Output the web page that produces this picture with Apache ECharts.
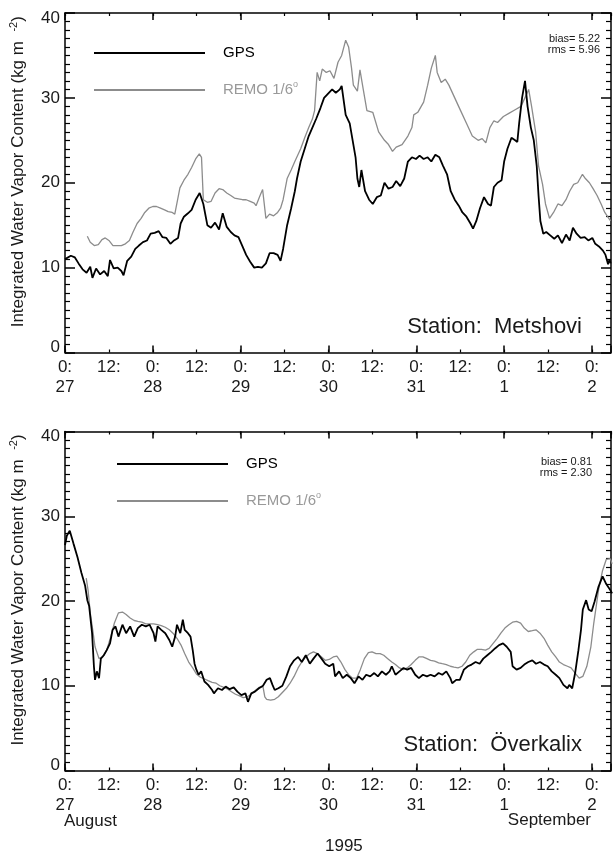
<!DOCTYPE html>
<html><head><meta charset="utf-8">
<script src="https://cdn.jsdelivr.net/npm/echarts@6/dist/echarts.min.js"></script>
<style>html,body{margin:0;padding:0;background:#fff}#c{width:613px;height:855px}</style>
</head><body><div id="c"></div>
<script>
// ---- data (hours since 27 Aug 1995 00:00, IWV kg m^-2) ----
const dayLabels = ['27','28','29','30','31','1','2'];
const yTicks = [0,10,20,30,40];
const seriesNames = ['GPS','REMO 1/6°'];
const stations = ['Station:  Metshovi','Station:  Överkalix'];
const stats = [['bias= 5.22','rms = 5.96'],['bias= 0.81','rms = 2.30']];

const gpsMetshovi = [[0,11.0],[1.6,11.4],[2.7,11.2],[3.7,10.5],[4.8,9.8],[5.9,9.4],[6.9,10.1],[7.5,8.8],[8.5,9.9],[9.6,9.2],[10.7,9.6],[11.7,9.0],[12.3,10.9],[13.3,9.9],[14.4,10.0],[15.4,9.6],[16.0,9.1],[17.0,10.8],[18.1,11.3],[19.2,12.2],[20.2,12.6],[21.3,13.0],[22.4,13.2],[23.4,14.0],[24.5,14.1],[25.6,14.3],[26.6,13.6],[27.7,13.5],[28.8,12.8],[29.8,13.2],[30.9,13.5],[31.6,15.2],[32.5,16.0],[33.6,16.4],[34.6,16.8],[35.7,18.0],[36.8,18.8],[37.8,17.5],[38.9,15.0],[39.9,14.7],[41.0,15.3],[42.1,14.5],[43.1,16.4],[44.2,14.8],[45.3,14.2],[46.3,13.8],[47.4,13.6],[48.5,12.5],[49.5,11.5],[50.6,10.7],[51.7,10.0],[52.7,10.1],[53.8,10.0],[54.9,10.5],[55.9,11.7],[57.0,11.7],[58.1,11.5],[58.9,10.8],[59.6,12.2],[60.7,15.0],[61.8,17.0],[62.8,19.0],[63.4,20.5],[64.4,22.5],[65.5,24.0],[66.6,25.5],[67.6,26.5],[68.7,27.6],[69.8,28.8],[70.8,30.0],[71.9,30.5],[73.0,31.0],[74.0,30.6],[75.1,31.0],[75.6,31.4],[76.7,28.0],[77.8,27.0],[78.8,24.5],[79.4,23.0],[79.9,20.5],[80.4,19.5],[81.0,21.5],[82.0,19.0],[83.1,18.0],[84.1,17.5],[85.2,18.3],[86.3,18.5],[87.3,20.0],[88.4,19.3],[89.5,19.5],[90.5,20.2],[91.6,19.6],[92.7,20.5],[93.7,22.5],[94.8,23.0],[95.9,22.8],[96.9,23.2],[98.0,22.8],[99.1,23.0],[100.1,22.5],[101.2,23.3],[102.3,23.0],[103.3,22.0],[104.4,21.0],[105.4,19.0],[106.5,18.0],[107.6,17.3],[108.6,16.5],[109.7,16.0],[110.8,15.2],[111.5,14.6],[112.4,15.5],[113.4,17.0],[114.5,18.3],[115.6,17.5],[116.4,17.3],[117.2,19.5],[118.2,20.0],[119.3,20.3],[120.0,22.5],[120.9,24.0],[122.0,25.3],[123.0,25.0],[123.6,24.8],[124.1,27.0],[124.9,30.0],[125.7,32.0],[126.4,29.0],[127.3,26.5],[128.1,25.0],[128.9,22.0],[129.4,18.5],[129.9,15.5],[130.7,14.0],[131.5,14.2],[132.6,13.8],[133.7,13.4],[134.7,13.8],[135.8,12.9],[136.9,13.9],[137.9,13.2],[138.8,14.7],[139.8,14.0],[140.9,13.5],[142.0,13.6],[143.0,13.2],[144.1,13.5],[144.9,12.8],[145.9,12.5],[147.0,12.0],[147.7,11.5],[148.4,10.4],[148.8,11.0],[149.1,10.5]];

const remoMetshovi = [[6.1,13.7],[6.9,13.0],[8.0,12.6],[9.1,12.7],[10.1,13.3],[11.0,13.5],[12.0,13.2],[13.1,12.6],[14.4,12.6],[15.4,12.6],[16.5,12.8],[17.6,13.2],[18.6,14.2],[19.7,15.2],[20.8,15.8],[21.8,16.5],[22.9,17.0],[24.0,17.2],[25.0,17.2],[26.1,17.0],[27.2,16.8],[28.2,16.6],[29.3,16.5],[30.0,16.3],[31.4,19.4],[32.5,20.3],[33.6,21.0],[34.6,21.8],[35.7,22.8],[36.7,23.4],[37.3,23.0],[37.8,18.0],[38.9,17.7],[39.9,17.8],[41.0,18.8],[42.1,19.3],[43.1,19.2],[44.2,18.8],[45.3,18.5],[46.3,18.2],[47.4,18.1],[48.5,18.0],[49.5,18.0],[50.6,17.8],[51.7,17.6],[52.2,17.3],[53.3,18.5],[54.0,19.2],[54.9,15.8],[55.9,16.3],[57.0,16.1],[58.1,16.5],[58.9,17.0],[59.6,18.0],[60.7,20.5],[61.8,21.5],[62.8,22.5],[64.4,24.0],[65.5,25.3],[66.6,26.5],[67.6,27.5],[68.2,28.5],[68.9,33.0],[69.6,32.0],[70.3,33.4],[71.4,33.0],[72.4,33.2],[73.5,32.3],[74.6,34.2],[75.6,35.0],[76.7,36.8],[77.5,36.0],[78.3,33.5],[78.8,31.5],[79.9,30.8],[80.6,33.3],[81.5,31.0],[82.5,28.5],[84.1,28.3],[85.7,26.0],[87.3,25.0],[88.4,24.5],[89.5,23.7],[90.5,24.2],[92.1,24.5],[93.7,25.5],[94.8,26.5],[95.3,28.0],[96.4,28.3],[98.0,29.5],[99.1,31.5],[100.1,33.5],[101.2,35.0],[101.7,33.0],[102.8,31.8],[103.9,32.2],[104.9,31.5],[106.5,30.0],[108.1,28.5],[109.7,27.0],[111.3,25.5],[112.9,25.0],[114.0,25.2],[115.0,24.7],[116.1,26.5],[117.2,27.3],[118.2,27.1],[119.8,27.8],[121.4,28.2],[123.0,28.6],[124.6,29.0],[126.2,30.5],[126.7,31.0],[127.5,29.0],[128.6,26.0],[129.4,22.0],[130.5,19.8],[131.3,17.5],[132.4,15.8],[133.5,16.5],[134.7,17.5],[135.8,17.3],[136.9,18.0],[137.9,19.0],[139.0,19.8],[140.1,20.0],[141.4,21.0],[142.2,20.5],[143.3,20.0],[144.3,19.3],[145.4,18.5],[146.5,17.5],[147.5,16.5],[148.6,15.8],[149.1,15.5]];

const gpsOverkalix = [[0,26.6],[0.5,27.7],[1.3,28.3],[2.3,26.8],[3.4,25.2],[4.5,23.3],[5.5,21.8],[6.1,20.1],[6.6,19.4],[7.4,16.2],[7.9,12.3],[8.2,10.7],[8.7,11.7],[9.3,10.9],[9.8,13.2],[10.6,13.6],[11.4,14.2],[12.3,15.0],[13.0,16.6],[13.8,17.0],[14.6,15.8],[15.7,17.2],[16.7,16.2],[17.8,17.0],[18.9,15.8],[19.9,16.8],[21.0,17.2],[22.1,17.0],[23.1,17.2],[24.2,16.2],[24.7,15.2],[25.3,17.0],[26.3,16.6],[27.4,16.2],[28.5,15.4],[29.3,14.6],[30.1,15.8],[30.6,17.2],[31.5,16.2],[32.2,17.8],[32.7,16.6],[33.6,16.2],[34.3,15.8],[34.9,14.2],[35.4,12.6],[35.9,11.9],[36.5,11.3],[37.2,11.7],[38.1,10.5],[39.1,10.1],[40.2,9.5],[40.7,9.1],[41.8,9.7],[42.9,9.5],[43.9,9.9],[45.0,9.6],[46.1,9.8],[47.1,9.3],[48.2,8.9],[49.3,9.1],[50.0,8.1],[50.9,9.1],[51.9,9.3],[53.0,9.7],[54.1,10.0],[55.1,10.7],[56.0,10.9],[56.7,10.1],[57.3,9.5],[58.3,9.7],[59.4,10.0],[60.5,11.1],[61.5,12.3],[62.6,13.0],[63.7,13.4],[64.7,12.8],[65.8,13.6],[66.9,12.6],[67.9,13.2],[69.0,13.8],[70.1,13.2],[71.1,12.6],[72.2,12.3],[73.3,12.6],[73.8,11.1],[74.9,11.7],[75.9,10.9],[77.0,11.3],[78.1,10.9],[79.1,10.3],[80.2,11.1],[81.3,10.7],[82.3,11.3],[83.4,11.1],[84.5,11.5],[85.5,11.1],[86.6,11.7],[87.7,11.3],[88.7,11.7],[89.3,12.3],[90.3,11.3],[91.4,11.7],[92.5,12.1],[93.5,11.9],[94.6,12.1],[95.7,11.3],[96.7,10.9],[97.8,11.3],[98.9,11.1],[99.9,11.3],[101.0,11.1],[102.1,11.5],[103.1,11.3],[104.2,11.7],[105.3,10.9],[105.8,10.3],[106.9,10.7],[107.9,10.7],[109.0,11.9],[110.1,12.3],[111.1,12.5],[112.2,12.8],[113.3,12.6],[114.3,13.2],[115.4,13.6],[116.5,14.0],[117.5,14.4],[118.6,14.8],[119.7,15.0],[120.7,14.6],[121.8,14.0],[122.3,12.3],[123.4,11.9],[124.5,12.1],[125.5,12.5],[126.6,12.8],[127.7,13.0],[128.7,12.6],[129.8,12.8],[130.9,12.5],[131.9,12.3],[133.0,11.7],[134.1,11.3],[135.1,10.9],[136.2,10.1],[137.3,9.7],[137.8,10.1],[138.6,9.7],[139.4,11.5],[140.3,14.2],[141.0,16.6],[141.5,19.0],[142.4,20.1],[143.1,19.0],[143.9,18.8],[144.7,19.9],[145.8,21.7],[146.9,22.9],[147.9,22.0],[149.0,21.3],[149.5,20.9]];

const remoOverkalix = [[5.8,22.7],[6.3,21.3],[6.9,18.6],[7.7,16.2],[8.2,14.6],[9.3,13.2],[10.3,13.4],[11.4,14.2],[12.5,15.8],[13.5,17.4],[14.6,18.6],[15.7,18.7],[16.7,18.4],[17.8,18.0],[18.9,17.7],[19.9,17.6],[21.0,17.5],[22.1,17.3],[23.1,17.3],[24.2,17.3],[25.3,17.2],[26.3,17.1],[27.4,16.9],[28.5,16.6],[29.5,16.2],[30.6,15.6],[31.7,14.8],[32.7,13.8],[33.8,12.8],[34.9,12.1],[35.9,11.4],[37.0,11.0],[38.1,10.8],[39.1,10.6],[40.2,10.4],[41.3,10.3],[42.3,10.0],[43.4,9.8],[44.5,9.6],[45.5,9.3],[46.6,9.0],[47.7,8.8],[48.7,8.6],[49.8,8.7],[50.9,9.0],[51.9,9.4],[53.0,9.8],[54.1,9.9],[54.6,8.7],[55.1,8.4],[56.2,8.3],[57.3,8.4],[58.3,8.7],[59.4,9.2],[60.5,9.7],[61.5,10.3],[62.6,11.1],[63.7,12.1],[64.7,12.8],[65.8,13.4],[66.9,13.8],[67.9,14.0],[69.0,13.8],[70.1,13.4],[71.1,13.0],[72.2,13.1],[73.3,13.4],[74.3,13.5],[75.4,12.8],[76.5,11.9],[77.5,11.3],[78.6,10.9],[79.7,10.9],[80.7,11.9],[81.8,13.2],[82.9,13.9],[83.9,14.0],[85.0,13.8],[86.1,13.8],[87.1,13.6],[88.2,13.2],[89.3,12.8],[90.3,12.5],[91.4,12.1],[92.5,11.9],[93.5,12.1],[94.6,12.5],[95.7,13.0],[96.7,13.4],[97.8,13.4],[98.9,13.2],[99.9,13.0],[101.0,12.9],[102.1,12.7],[103.1,12.6],[104.2,12.5],[105.3,12.3],[106.3,12.2],[107.4,12.1],[108.5,12.3],[109.5,12.8],[110.6,13.6],[111.7,14.0],[112.7,14.3],[113.8,14.3],[114.9,14.2],[115.9,14.4],[117.0,15.0],[118.1,15.6],[119.1,16.2],[120.2,16.8],[121.3,17.2],[122.3,17.5],[123.4,17.6],[124.5,17.4],[125.5,16.8],[126.6,16.4],[127.7,16.5],[128.7,16.6],[129.8,16.2],[130.9,15.6],[131.9,14.8],[133.0,14.0],[134.1,13.4],[135.1,12.8],[136.2,12.5],[137.3,12.3],[138.3,12.1],[139.4,11.5],[140.5,10.9],[141.5,11.1],[142.6,12.3],[143.7,14.6],[144.5,17.4],[145.3,19.8],[145.8,21.3],[146.9,23.6],[147.9,24.9],[149.0,25.0],[149.5,24.4]];

// ---- styling / layout ----
const FONT = 'Liberation Sans, Arial, sans-serif';
const TXT = '#1a1a1a';
const GRAY = '#8c8c8c';
const XMAX = 149.2;
const grids = [
  {left: 64, top: 13, width: 547, height: 339.5},
  {left: 64, top: 431.5, width: 547, height: 339}
];
const axisLineStyle = {color: '#000', width: 1.5};

function xAxesFor(gi) {
  const base = {gridIndex: gi, type: 'value', min: 0, max: XMAX, splitLine: {show: false}};
  return [
    Object.assign({}, base, {position: 'bottom', interval: 12,
      axisLine: {show: true, onZero: false, lineStyle: axisLineStyle},
      axisTick: {show: true, inside: true, length: 3, lineStyle: {color: '#000', width: 1.2}},
      axisLabel: {show: true, showMaxLabel: false, fontFamily: FONT, fontSize: 17, color: TXT, margin: 5, lineHeight: 20,
        formatter: v => (v % 24 === 0 ? '0:\n' + dayLabels[v / 24] : (v % 12 === 0 ? '12:' : ''))}}),
    Object.assign({}, base, {position: 'bottom', interval: 24,
      axisLine: {show: false, onZero: false},
      axisTick: {show: true, inside: true, length: 7, lineStyle: {color: '#000', width: 1.5}},
      axisLabel: {show: false}}),
    Object.assign({}, base, {position: 'top', interval: 12,
      axisLine: {show: true, onZero: false, lineStyle: axisLineStyle},
      axisTick: {show: true, inside: true, length: 3, lineStyle: {color: '#000', width: 1.2}},
      axisLabel: {show: false}}),
    Object.assign({}, base, {position: 'top', interval: 24,
      axisLine: {show: false, onZero: false},
      axisTick: {show: true, inside: true, length: 7, lineStyle: {color: '#000', width: 1.5}},
      axisLabel: {show: false}})
  ];
}
function yAxesFor(gi) {
  const base = {gridIndex: gi, type: 'value', min: yTicks[0], max: yTicks[yTicks.length - 1], interval: 10,
    splitLine: {show: false},
    axisLine: {show: true, onZero: false, lineStyle: axisLineStyle},
    axisTick: {show: true, inside: true, length: 10, lineStyle: {color: '#000', width: 1.5}},
    minorTick: {show: true, splitNumber: 10, length: 5, lineStyle: {color: '#000', width: 1.2}}};
  return [
    Object.assign({}, base, {position: 'left',
      axisLabel: {show: true, fontFamily: FONT, fontSize: 17, color: TXT, margin: 5,
        formatter: v => v === 40 ? '{hi|40}' : (v === 0 ? '{lo|0}' : String(v)),
        rich: {hi: {fontFamily: FONT, fontSize: 17, color: TXT, padding: [10, 0, 0, 0]},
               lo: {fontFamily: FONT, fontSize: 17, color: TXT, padding: [0, 0, 10, 0]}}},
      name: 'Integrated Water Vapor Content (kg m  {sup|-2})',
      nameLocation: 'middle', nameGap: 37, nameRotate: 90,
      nameTextStyle: {fontFamily: FONT, fontSize: 17, color: TXT, lineHeight: 20, padding: [0, 0, 0, 22],
        rich: {sup: {fontFamily: FONT, fontSize: 11, color: TXT, verticalAlign: 'top', lineHeight: 11}}}}),
    Object.assign({}, base, {position: 'right', axisLabel: {show: false}})
  ];
}

const xAxis = [].concat(xAxesFor(0), xAxesFor(1));
const yAxis = [].concat(yAxesFor(0), yAxesFor(1));

function lineSeries(name, data, xi, yi, color, width) {
  return {name, type: 'line', data, xAxisIndex: xi, yAxisIndex: yi, showSymbol: false, symbol: 'none',
    silent: true, animation: false, lineStyle: {color, width}, itemStyle: {color}, z: name === 'GPS' ? 3 : 2};
}
const series = [
  lineSeries(seriesNames[1], remoMetshovi, 0, 0, GRAY, 1.3),
  lineSeries(seriesNames[0], gpsMetshovi, 0, 0, '#000', 1.8),
  lineSeries(seriesNames[1], remoOverkalix, 4, 2, GRAY, 1.3),
  lineSeries(seriesNames[0], gpsOverkalix, 4, 2, '#000', 1.8)
];

function legendFor(left, top) {
  return {left, top, orient: 'vertical', padding: 0, itemGap: 17, itemWidth: 111, itemHeight: 2,
    icon: 'rect', selectedMode: false,
    data: [{name: seriesNames[0], textStyle: {color: '#000'}}, {name: seriesNames[1], textStyle: {color: '#999'}}],
    formatter: n => n === seriesNames[1] ? 'REMO 1/6{sup|o}' : n,
    textStyle: {fontFamily: FONT, fontSize: 15, lineHeight: 20, padding: [0, 0, 0, 13],
      rich: {sup: {fontFamily: FONT, fontSize: 9, color: '#999', verticalAlign: 'top', lineHeight: 9}}}};
}

function statText(lines, right, top) {
  return {type: 'text', right, top, style: {text: lines.join('\n'), font: '11px ' + FONT, fill: TXT, textAlign: 'right', lineHeight: 11}};
}

const graphic = [
  {type: 'text', right: 31, top: 316, style: {text: stations[0], font: '22px ' + FONT, fill: TXT}},
  {type: 'text', right: 31, top: 734, style: {text: stations[1], font: '22px ' + FONT, fill: TXT}},
  statText(stats[0], 13, 33),
  statText(stats[1], 21, 456),
  {type: 'text', left: 64, top: 813, style: {text: 'August', font: '17px ' + FONT, fill: TXT}},
  {type: 'text', right: 22, top: 812, style: {text: 'September', font: '17px ' + FONT, fill: TXT}},
  {type: 'text', left: 325, top: 838, style: {text: '1995', font: '17px ' + FONT, fill: TXT}}
];

const chart = echarts.init(document.getElementById('c'), null, {renderer: 'canvas'});
chart.setOption({
  animation: false,
  backgroundColor: '#fff',
  grid: grids,
  xAxis, yAxis, series,
  legend: [legendFor(94, 43), legendFor(117, 454)],
  graphic
});
</script></body></html>
